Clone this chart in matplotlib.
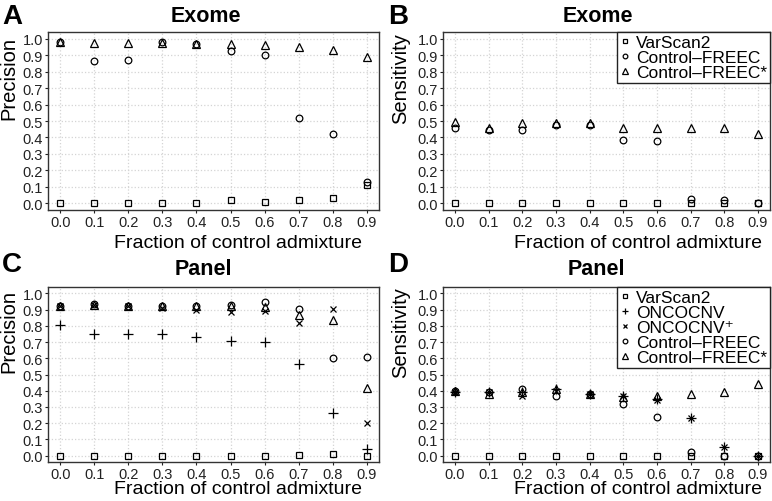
import numpy as np
import matplotlib
matplotlib.use("Agg")
import matplotlib.pyplot as plt

plt.rcParams['font.family'] = ['Liberation Sans', 'DejaVu Sans']

# Fraction of control admixture
frac = [0.0, 0.1, 0.2, 0.3, 0.4, 0.5, 0.6, 0.7, 0.8, 0.9]

# A: Exome precision
exome_prec_varscan = [0.0, 0.0, 0.0, 0.0, 0.0, 0.018, 0.006, 0.018, 0.03, 0.113]
exome_prec_freec = [0.98, 0.865, 0.871, 0.98, 0.97, 0.924, 0.898, 0.518, 0.422, 0.129]
exome_prec_freec_s = [0.98, 0.975, 0.975, 0.975, 0.967, 0.97, 0.963, 0.95, 0.932, 0.89]

# B: Exome sensitivity
exome_sens_varscan = [0.0, 0.0, 0.0, 0.0, 0.0, 0.005, 0.0, 0.0, 0.0, 0.003]
exome_sens_freec = [0.459, 0.445, 0.443, 0.475, 0.475, 0.385, 0.379, 0.027, 0.02, 0.004]
exome_sens_freec_s = [0.496, 0.455, 0.49, 0.49, 0.49, 0.455, 0.455, 0.455, 0.457, 0.42]

# C: Panel precision
panel_prec_varscan = [0.0, 0.0, 0.0, 0.0, 0.0, 0.0, 0.0, 0.003, 0.012, 0.0]
panel_prec_onco = [0.804, 0.749, 0.749, 0.749, 0.731, 0.708, 0.702, 0.567, 0.261, 0.041]
panel_prec_onco_p = [0.92, 0.93, 0.92, 0.91, 0.898, 0.884, 0.892, 0.816, 0.902, 0.2]
panel_prec_freec = [0.92, 0.935, 0.92, 0.925, 0.92, 0.929, 0.949, 0.904, 0.602, 0.606]
panel_prec_freec_s = [0.92, 0.93, 0.92, 0.92, 0.925, 0.92, 0.918, 0.867, 0.837, 0.414]

# D: Panel sensitivity
panel_sens_varscan = [0.0, 0.0, 0.0, 0.0, 0.0, 0.0, 0.0, 0.0, 0.0, 0.0]
panel_sens_onco = [0.39, 0.39, 0.39, 0.41, 0.38, 0.37, 0.35, 0.229, 0.053, 0.0]
panel_sens_onco_p = [0.395, 0.395, 0.37, 0.40, 0.38, 0.37, 0.34, 0.23, 0.055, 0.0]
panel_sens_freec = [0.40, 0.39, 0.41, 0.365, 0.38, 0.32, 0.239, 0.02, 0.0, 0.0]
panel_sens_freec_s = [0.40, 0.38, 0.39, 0.41, 0.38, 0.36, 0.37, 0.382, 0.392, 0.441]

W, H = 772, 502
fig = plt.figure(figsize=(W / 100, H / 100), dpi=100)


def rect(x0, y0, x1, y1):
    # pixel box (top-left origin) -> figure fraction
    return [x0 / W, 1 - y1 / H, (x1 - x0) / W, (y1 - y0) / H]


styles = {
    'VarScan2': dict(marker='s', ms=4.2),
    'ONCOCNV': dict(marker='+', ms=6.5),
    'ONCOCNV\u207a': dict(marker='x', ms=5),
    'Control\u2013FREEC': dict(marker='o', ms=4.8),
    'Control\u2013FREEC*': dict(marker='^', ms=5.8),
}


def setup(ax):
    ax.set_xlim(-0.036, 0.936)
    ax.set_ylim(-0.04, 1.04)
    ax.set_xticks(frac)
    ax.set_xticklabels([f'{v:.1f}' for v in frac])
    ax.set_yticks(np.arange(0, 1.01, 0.1))
    ax.set_yticklabels([f'{v:.1f}' for v in np.arange(0, 1.01, 0.1)])
    ax.tick_params(labelsize=10.5, length=2.5, width=0.8, pad=1.0, colors='#222222')
    ax.grid(True, color='#d4d4d4', linestyle=':', linewidth=0.9)
    ax.set_axisbelow(True)
    for s in ax.spines.values():
        s.set_color('#333333')
        s.set_linewidth(1.0)


def draw(ax, series):
    for name, vals in series:
        st = styles[name]
        ax.plot(frac, vals, linestyle='none', marker=st['marker'], ms=st['ms'],
                mfc='none', mec='black', mew=0.9, label=name)


panels = [
    ('A', 'Exome', 'Precision', rect(48, 33, 379, 211), [
        ('VarScan2', exome_prec_varscan),
        ('Control\u2013FREEC', exome_prec_freec),
        ('Control\u2013FREEC*', exome_prec_freec_s)], False),
    ('B', 'Exome', 'Sensitivity', rect(443, 33, 770, 211), [
        ('VarScan2', exome_sens_varscan),
        ('Control\u2013FREEC', exome_sens_freec),
        ('Control\u2013FREEC*', exome_sens_freec_s)], True),
    ('C', 'Panel', 'Precision', rect(48, 288, 379, 463), [
        ('VarScan2', panel_prec_varscan),
        ('ONCOCNV', panel_prec_onco),
        ('ONCOCNV\u207a', panel_prec_onco_p),
        ('Control\u2013FREEC', panel_prec_freec),
        ('Control\u2013FREEC*', panel_prec_freec_s)], False),
    ('D', 'Panel', 'Sensitivity', rect(443, 288, 770, 463), [
        ('VarScan2', panel_sens_varscan),
        ('ONCOCNV', panel_sens_onco),
        ('ONCOCNV\u207a', panel_sens_onco_p),
        ('Control\u2013FREEC', panel_sens_freec),
        ('Control\u2013FREEC*', panel_sens_freec_s)], True),
]

# text positions in pixels: letter, title, ylabel, xlabel
text_pos = {
    'A': ((12, 17), (206, 17), (9, 78), (238, 243)),
    'B': ((398, 17), (598, 17), (401, 79), (638, 243)),
    'C': ((12, 265), (203, 270), (9, 332), (238, 490)),
    'D': ((398, 265), (596, 270), (401, 333), (638, 490)),
}

for letter, title, ylab, r, series, leg in panels:
    ax = fig.add_axes(r)
    setup(ax)
    draw(ax, series)
    if leg:
        lg = ax.legend(loc='upper right', borderaxespad=0, fontsize=12.5,
                       markerscale=0.7, handlelength=0.6, handletextpad=0.35,
                       borderpad=0.15, labelspacing=0.0, fancybox=False,
                       framealpha=1, edgecolor='#222222')
        lg.get_frame().set_linewidth(1.0)
    (lx, ly), (tx, ty), (yx, yy), (xx, xy) = text_pos[letter]
    fig.text(lx / W, 1 - ly / H, letter, fontsize=20, fontweight='bold',
             ha='center', va='center')
    fig.text(tx / W, 1 - ty / H, title, fontsize=15.5, fontweight='bold',
             ha='center', va='center')
    fig.text(yx / W, 1 - yy / H, ylab, fontsize=14.5, rotation=90,
             ha='center', va='center')
    fig.text(xx / W, 1 - xy / H, 'Fraction of control admixture', fontsize=14,
             ha='center', va='center')

fig.savefig('out.png', dpi=100)
